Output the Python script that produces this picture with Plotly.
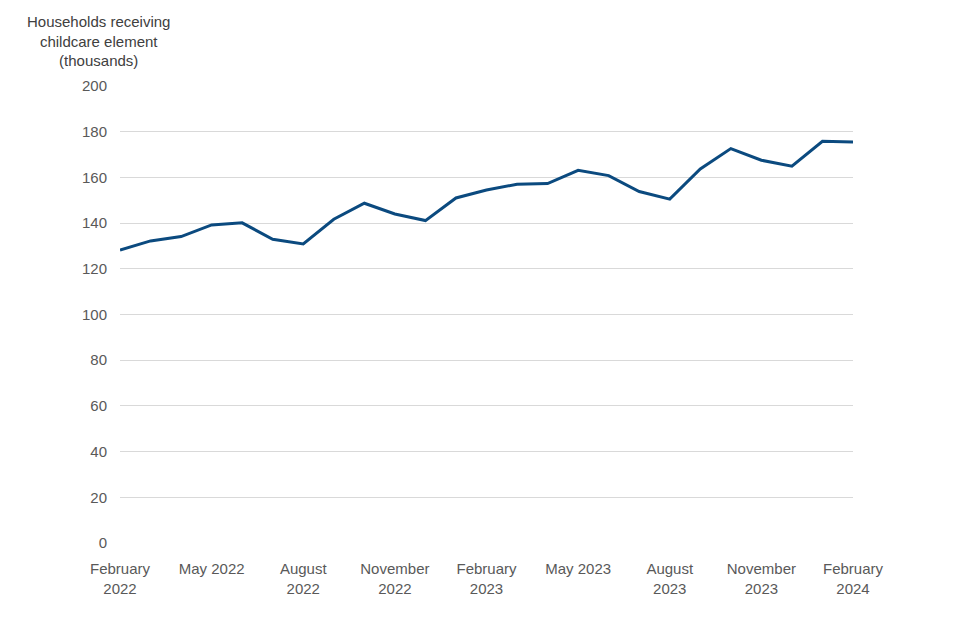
import plotly.graph_objects as go

months = ["Feb 2022", "Mar 2022", "Apr 2022", "May 2022", "Jun 2022", "Jul 2022", "Aug 2022",
          "Sep 2022", "Oct 2022", "Nov 2022", "Dec 2022", "Jan 2023", "Feb 2023", "Mar 2023",
          "Apr 2023", "May 2023", "Jun 2023", "Jul 2023", "Aug 2023", "Sep 2023", "Oct 2023",
          "Nov 2023", "Dec 2023", "Jan 2024", "Feb 2024"]
households = [128.2, 132.2, 134.1, 139.2, 140.1, 132.9, 130.9, 141.7, 148.7, 144.0, 141.1,
              151.0, 154.5, 157.0, 157.3, 163.1, 160.8, 153.8, 150.5, 163.7, 172.6, 167.5,
              164.9, 175.8, 175.5]
tick_positions = [0, 3, 6, 9, 12, 15, 18, 21, 24]
tick_labels = ["February<br>2022", "May 2022", "August<br>2022", "November<br>2022",
               "February<br>2023", "May 2023", "August<br>2023", "November<br>2023",
               "February<br>2024"]
y_ticks = [0, 20, 40, 60, 80, 100, 120, 140, 160, 180, 200]

x_idx = list(range(len(months)))

fig = go.Figure()
fig.add_trace(go.Scatter(
    x=x_idx, y=households, mode="lines",
    line=dict(color="#0b4a7f", width=3),
    customdata=months,
    hovertemplate="%{customdata}: %{y}<extra></extra>",
))

font = "Liberation Sans, Arial, sans-serif"
fig.update_layout(
    width=960, height=640,
    margin=dict(l=112, r=115, t=78, b=105),
    paper_bgcolor="white", plot_bgcolor="white",
    showlegend=False,
    font=dict(family=font, size=15, color="#595959"),
    xaxis=dict(
        range=[0, 24], tickvals=tick_positions, ticktext=tick_labels,
        showgrid=False, zeroline=False, showline=False,
        ticks="", ticklabelstandoff=15,
        tickfont=dict(family=font, size=15, color="#595959"),
    ),
    yaxis=dict(
        range=[0, 200], tickvals=y_ticks,
        showgrid=True, gridcolor="#d9d9d9", gridwidth=1,
        zeroline=False, showline=False, ticks="",
        ticklabelstandoff=12,
        tickfont=dict(family=font, size=15, color="#595959"),
    ),
    annotations=[dict(
        text="Households receiving<br>childcare element<br>(thousands)",
        xref="paper", yref="paper", x=-0.029, y=1.0, yshift=15,
        xanchor="center", yanchor="bottom", showarrow=False, align="center",
        font=dict(family=font, size=15, color="#404040"),
    )],
)

fig.write_html("out.html")
